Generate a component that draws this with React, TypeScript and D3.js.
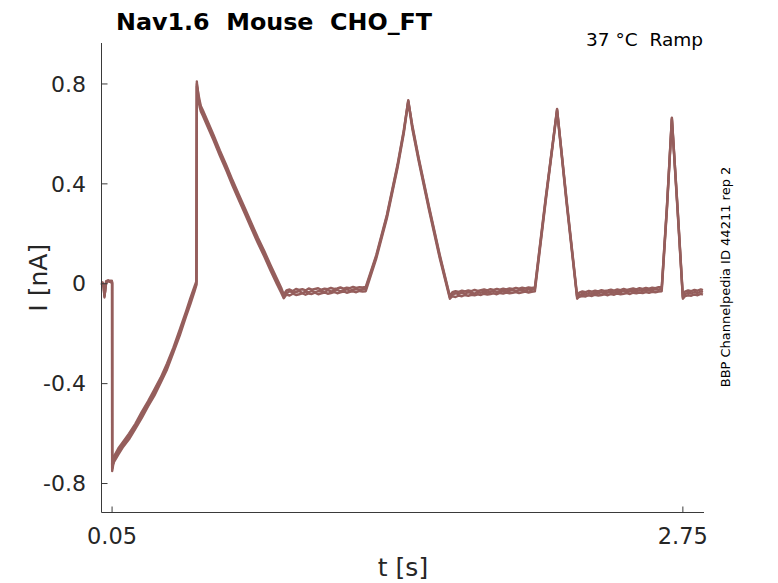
import React, { useEffect } from "react";
import * as d3 from "d3";

// ---- data ----
const timeS: number[] = [
  // holding
  0, 0.005, 0.01, 0.014, 0.018, 0.022, 0.026, 0.032, 0.038, 0.044, 0.049, 0.0502,
  // step + recovery
  0.0505, 0.06, 0.08, 0.1, 0.13, 0.16, 0.19, 0.22, 0.25, 0.28, 0.31, 0.34, 0.37, 0.4, 0.42, 0.44, 0.449,
  // peak + decay
  0.451, 0.455, 0.46, 0.465, 0.47, 0.48, 0.5, 0.53, 0.56, 0.59, 0.62, 0.65, 0.68, 0.71, 0.74, 0.77, 0.8, 0.83, 0.85, 0.862,
  // flat 1
  0.875, 0.89, 0.905, 0.92, 0.935, 0.95, 0.965, 0.98, 0.995, 1.01, 1.025, 1.04, 1.055, 1.07, 1.085, 1.1, 1.115, 1.13, 1.145, 1.16, 1.175, 1.19, 1.205, 1.22, 1.235,
  // ramp 1
  1.25, 1.3, 1.35, 1.4, 1.43, 1.451, 1.47, 1.5, 1.55, 1.6, 1.648,
  // flat 2
  1.66, 1.675, 1.69, 1.705, 1.72, 1.735, 1.75, 1.765, 1.78, 1.795, 1.81, 1.825, 1.84, 1.855, 1.87, 1.885, 1.9, 1.915, 1.93, 1.945, 1.96, 1.975, 1.99, 2.005, 2.02, 2.035,
  // ramp 2
  2.05, 2.1, 2.155, 2.2, 2.25,
  // flat 3
  2.26, 2.275, 2.29, 2.305, 2.32, 2.335, 2.35, 2.365, 2.38, 2.395, 2.41, 2.425, 2.44, 2.455, 2.47, 2.485, 2.5, 2.515, 2.53, 2.545, 2.56, 2.575, 2.59, 2.605, 2.62, 2.635,
  // ramp 3
  2.65, 2.675, 2.698, 2.725, 2.75,
  // flat 4
  2.76, 2.775, 2.79, 2.805, 2.82, 2.835, 2.845,
];

const sweepA: number[] = [
  0.0, 0.005, -0.01, -0.055, -0.02, 0.008, 0.012, 0.01, 0.012, 0.008, 0.01, 0.005,
  -0.75, -0.7, -0.67, -0.645, -0.61, -0.57, -0.525, -0.48, -0.435, -0.385, -0.33, -0.265, -0.195, -0.12, -0.07, -0.02, 0.0,
  0.8, 0.78, 0.74, 0.72, 0.7, 0.685, 0.645, 0.585, 0.525, 0.465, 0.405, 0.345, 0.29, 0.23, 0.175, 0.12, 0.065, 0.01, -0.025, -0.05,
  -0.038, -0.03, -0.036, -0.033, -0.029, -0.037, -0.031, -0.034, -0.028, -0.035, -0.03, -0.027, -0.033, -0.026, -0.031, -0.029, -0.024, -0.03, -0.026, -0.022, -0.028, -0.024, -0.021, -0.026, -0.022,
  -0.02, 0.11, 0.27, 0.47, 0.61, 0.735, 0.63, 0.5, 0.3, 0.11, -0.055,
  -0.044, -0.038, -0.041, -0.036, -0.04, -0.034, -0.037, -0.039, -0.033, -0.036, -0.031, -0.035, -0.032, -0.029, -0.034, -0.03, -0.027, -0.031, -0.028, -0.025, -0.03, -0.026, -0.024, -0.028, -0.023, -0.025,
  -0.02, 0.33, 0.7, 0.33, -0.055,
  -0.046, -0.039, -0.043, -0.037, -0.041, -0.036, -0.039, -0.034, -0.038, -0.035, -0.032, -0.036, -0.031, -0.034, -0.029, -0.033, -0.03, -0.027, -0.031, -0.026, -0.029, -0.024, -0.027, -0.025, -0.022, -0.024,
  -0.02, 0.31, 0.665, 0.3, -0.055,
  -0.042, -0.035, -0.039, -0.033, -0.037, -0.031, -0.034,
];

const sweepB: number[] = [
  0.005, 0.0, -0.005, -0.045, -0.03, 0.004, 0.01, 0.014, 0.008, 0.012, 0.006, 0.0,
  -0.73, -0.712, -0.683, -0.656, -0.623, -0.581, -0.538, -0.491, -0.448, -0.396, -0.343, -0.276, -0.208, -0.131, -0.083, -0.031, -0.005,
  0.81, 0.76, 0.728, 0.706, 0.69, 0.672, 0.633, 0.574, 0.512, 0.454, 0.392, 0.334, 0.277, 0.219, 0.162, 0.109, 0.052, -0.002, -0.036, -0.058,
  -0.043, -0.047, -0.04, -0.045, -0.042, -0.038, -0.044, -0.039, -0.041, -0.036, -0.042, -0.038, -0.035, -0.04, -0.037, -0.033, -0.038, -0.034, -0.031, -0.036, -0.032, -0.03, -0.034, -0.029, -0.031,
  -0.03, 0.102, 0.262, 0.462, 0.602, 0.728, 0.622, 0.492, 0.292, 0.102, -0.06,
  -0.05, -0.053, -0.047, -0.05, -0.045, -0.048, -0.044, -0.046, -0.042, -0.045, -0.04, -0.043, -0.041, -0.038, -0.042, -0.037, -0.039, -0.035, -0.038, -0.036, -0.033, -0.037, -0.034, -0.031, -0.035, -0.032,
  -0.03, 0.322, 0.692, 0.322, -0.06,
  -0.052, -0.049, -0.051, -0.046, -0.049, -0.044, -0.047, -0.045, -0.042, -0.046, -0.041, -0.044, -0.039, -0.042, -0.04, -0.037, -0.041, -0.036, -0.038, -0.035, -0.037, -0.033, -0.036, -0.032, -0.034, -0.031,
  -0.03, 0.302, 0.657, 0.292, -0.06,
  -0.05, -0.046, -0.048, -0.043, -0.046, -0.041, -0.044,
];

const sweepC: number[] = [
  -0.005, 0.004, -0.015, -0.05, -0.01, 0.01, 0.006, 0.012, 0.01, 0.006, 0.012, 0.002,
  -0.74, -0.69, -0.659, -0.636, -0.6, -0.561, -0.514, -0.471, -0.424, -0.376, -0.319, -0.256, -0.184, -0.111, -0.059, -0.011, 0.01,
  0.79, 0.775, 0.752, 0.731, 0.712, 0.694, 0.655, 0.596, 0.534, 0.476, 0.414, 0.356, 0.299, 0.241, 0.184, 0.131, 0.074, 0.02, -0.016, -0.043,
  -0.027, -0.023, -0.029, -0.021, -0.025, -0.022, -0.027, -0.019, -0.024, -0.021, -0.018, -0.024, -0.02, -0.022, -0.017, -0.021, -0.019, -0.015, -0.02, -0.016, -0.018, -0.013, -0.017, -0.014, -0.015,
  -0.013, 0.116, 0.276, 0.476, 0.616, 0.732, 0.636, 0.506, 0.306, 0.116, -0.05,
  -0.034, -0.03, -0.033, -0.028, -0.031, -0.027, -0.03, -0.025, -0.029, -0.026, -0.023, -0.027, -0.022, -0.025, -0.021, -0.024, -0.02, -0.023, -0.019, -0.021, -0.017, -0.02, -0.016, -0.019, -0.015, -0.017,
  -0.015, 0.337, 0.697, 0.337, -0.05,
  -0.036, -0.031, -0.034, -0.029, -0.032, -0.028, -0.031, -0.026, -0.029, -0.027, -0.024, -0.028, -0.023, -0.026, -0.021, -0.025, -0.022, -0.019, -0.023, -0.018, -0.021, -0.017, -0.02, -0.016, -0.018, -0.014,
  -0.014, 0.316, 0.662, 0.306, -0.05,
  -0.032, -0.027, -0.03, -0.025, -0.028, -0.023, -0.026,
];

const sweeps: number[][] = [sweepA, sweepB, sweepC];
const xTicks: number[] = [0.05, 2.75];
const xTickLabels: string[] = ["0.05", "2.75"];
const yTicks: number[] = [0.8, 0.4, 0, -0.4, -0.8];
const yTickLabels: string[] = ["0.8", "0.4", "0", "-0.4", "-0.8"];

const title = "Nav1.6  Mouse  CHO_FT";
const subtitle = "37 °C  Ramp";
const sideNote = "BBP Channelpedia ID 44211 rep 2";

// ---- layout ----
const W = 778;
const H = 583;
const left = 101.5;
const right = 704;
const top = 43;
const bottom = 512.5;
const FONT = "'DejaVu Sans', sans-serif";
const TEXT = "#262626";
const AXIS = "#3a3a3a";
const TRACE = "#955e5c";

export default function App() {
  useEffect(() => {
    document.body.style.margin = "0";
  }, []);

  const x = d3.scaleLinear().domain([0, 2.85]).range([left, right]);
  const y = d3.scaleLinear().domain([-0.916, 0.964]).range([bottom, top]);

  const line = d3
    .line<number>()
    .x((_, i) => x(timeS[i]))
    .y((v) => y(v));

  return (
    <svg width={W} height={H} style={{ display: "block" }}>
      <rect width={W} height={H} fill="#fff" />
      {sweeps.map((s, k) => (
        <path
          key={k}
          d={line(s.slice(0, timeS.length)) || ""}
          fill="none"
          stroke={TRACE}
          strokeWidth={2.4}
          strokeLinejoin="round"
        />
      ))}
      {/* axes */}
      <line x1={left} x2={left} y1={top} y2={bottom} stroke={AXIS} strokeWidth={1} />
      <line x1={left} x2={right} y1={bottom} y2={bottom} stroke={AXIS} strokeWidth={1} />
      {yTicks.map((t, i) => (
        <g key={"y" + t}>
          <line x1={left} x2={left + 6} y1={y(t)} y2={y(t)} stroke={AXIS} strokeWidth={1} />
          <text
            x={86}
            y={y(t)}
            dy="0.35em"
            textAnchor="end"
            fontFamily={FONT}
            fontSize={22}
            fill={TEXT}
          >
            {yTickLabels[i]}
          </text>
        </g>
      ))}
      {xTicks.map((t, i) => (
        <g key={"x" + t}>
          <line x1={x(t)} x2={x(t)} y1={bottom} y2={bottom - 6} stroke={AXIS} strokeWidth={1} />
          <text
            x={x(t)}
            y={544}
            textAnchor="middle"
            fontFamily={FONT}
            fontSize={22.5}
            fill={TEXT}
          >
            {xTickLabels[i]}
          </text>
        </g>
      ))}
      <text
        x={403}
        y={576}
        textAnchor="middle"
        fontFamily={FONT}
        fontSize={25}
        fill={TEXT}
      >
        t [s]
      </text>
      <text
        transform={`translate(38,${(top + bottom) / 2}) rotate(-90)`}
        textAnchor="middle"
        dy="0.35em"
        fontFamily={FONT}
        fontSize={25}
        fill={TEXT}
      >
        I [nA]
      </text>
      <text
        x={116}
        y={30}
        fontFamily={FONT}
        fontWeight="bold"
        fontSize={23.8}
        fill="#000"
        style={{ whiteSpace: "pre" }}
      >
        {title}
      </text>
      <text
        x={703}
        y={46}
        textAnchor="end"
        fontFamily={FONT}
        fontSize={18.5}
        fill="#000"
        style={{ whiteSpace: "pre" }}
      >
        {subtitle}
      </text>
      <text
        transform={`translate(725,277) rotate(-90)`}
        textAnchor="middle"
        dy="0.35em"
        fontFamily={FONT}
        fontSize={13}
        fill="#000"
      >
        {sideNote}
      </text>
    </svg>
  );
}
